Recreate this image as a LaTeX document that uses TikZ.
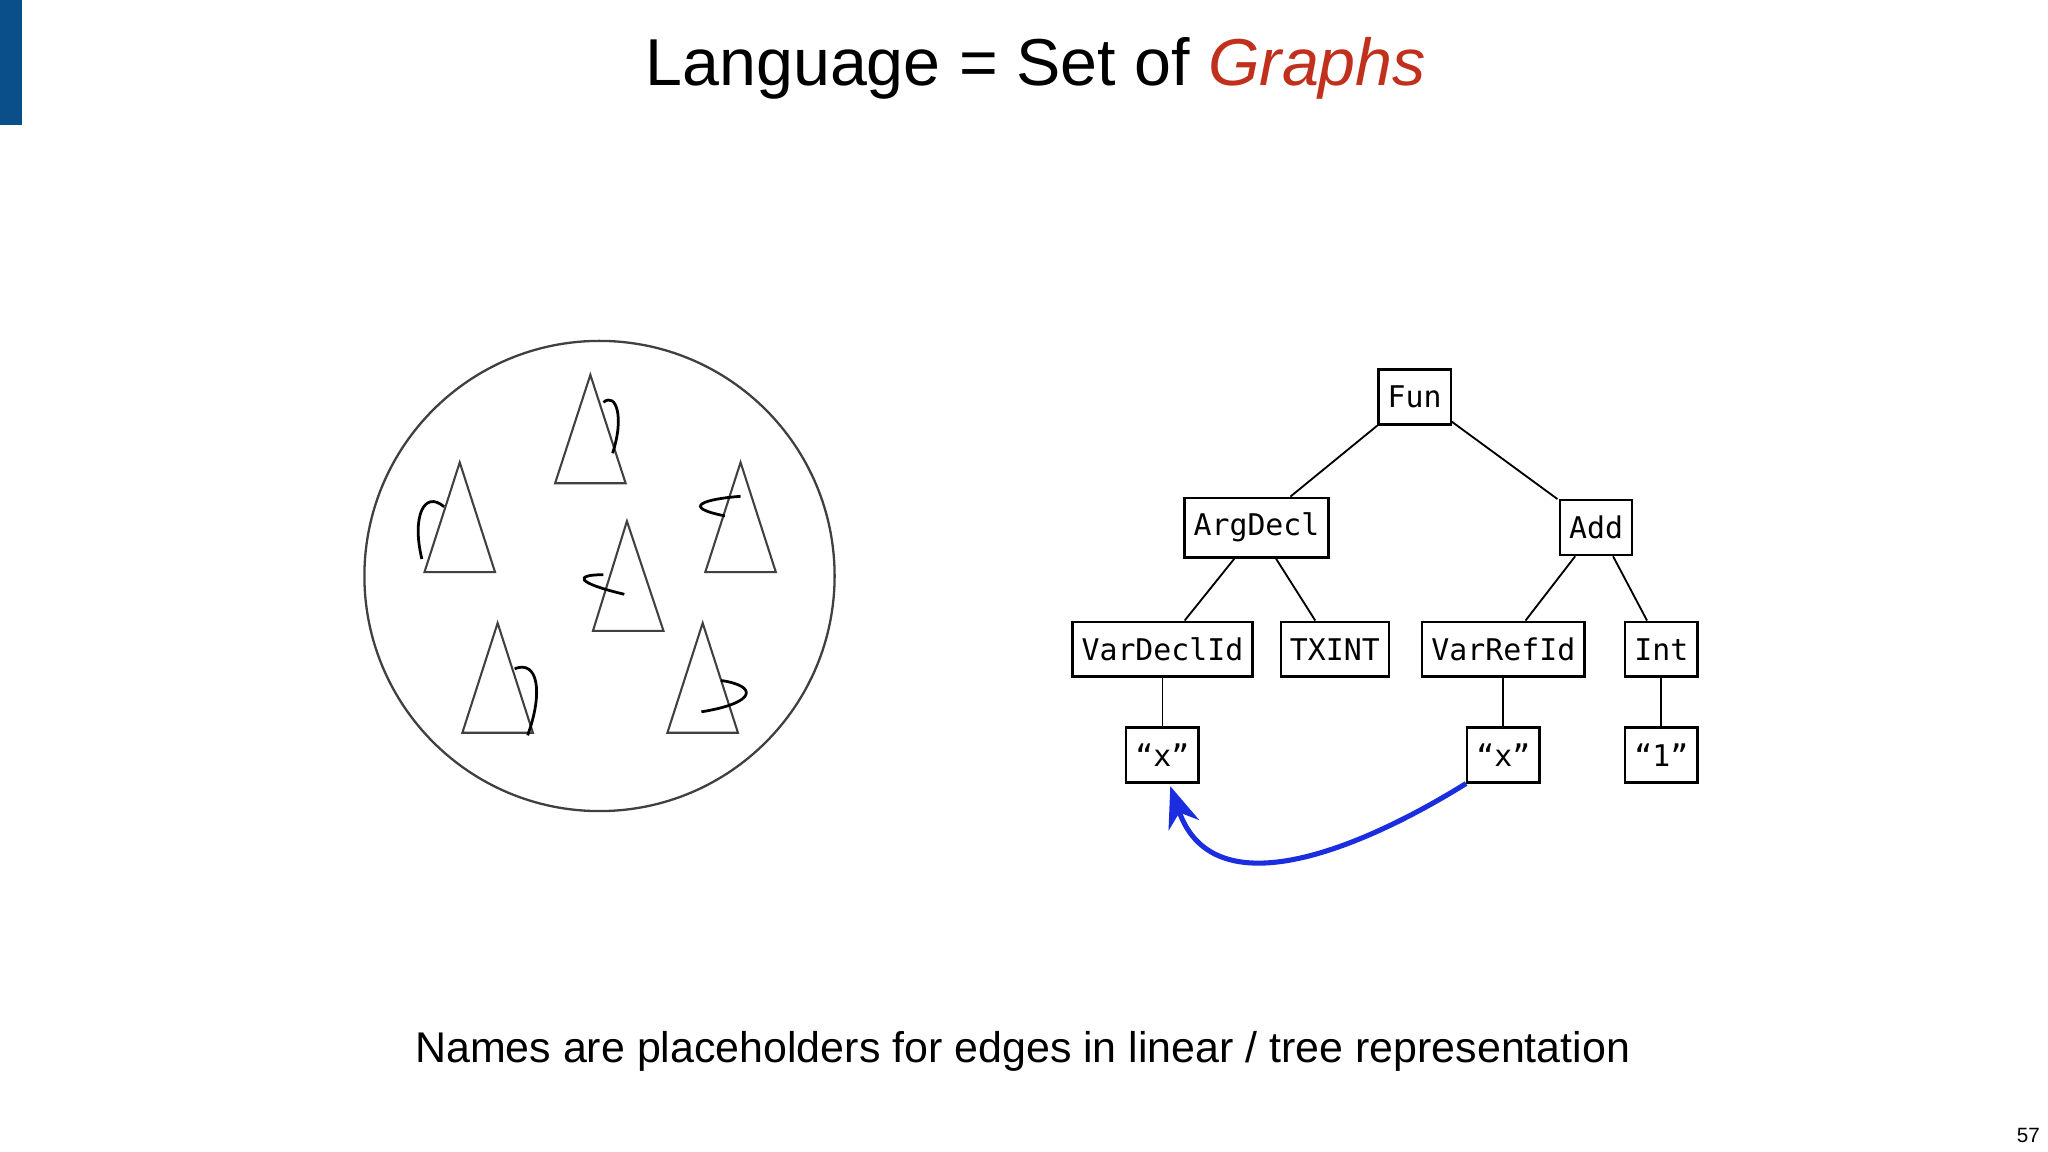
\documentclass[tikz,border=0pt]{standalone}
\usepackage{fontspec}
\setmainfont{Liberation Sans}
\newfontfamily\monof{DejaVu Sans Mono}
\usetikzlibrary{calc,arrows.meta}
\definecolor{barblue}{HTML}{0B4F8A}
\definecolor{titlered}{HTML}{C0301C}
\definecolor{arrblue}{HTML}{1A2EE0}
\tikzset{
  tbox/.style={draw,line width=0.5pt,font=\monof\fontsize{6.5}{7}\selectfont,inner xsep=2pt,minimum height=0.42cm,minimum width=0.54cm},
  tri/.style={draw=black!75,line width=0.45pt},
  sq/.style={draw=black,line width=0.6pt},
  edge/.style={draw,line width=0.4pt}
}
\begin{document}
\begin{tikzpicture}[x=0.01cm,y=-0.01cm]
\useasboundingbox (0,0) rectangle (1568,882);
\fill[white] (0,0) rectangle (1568,882);
\fill[barblue] (0,0) rectangle (17,96);
\node (title) at (793,52) {\fontsize{14.45}{16}\selectfont Language = Set of \textcolor{titlered}{\textit{Graphs}}};
\node (foot) at (783,805) {\fontsize{9.35}{11}\selectfont Names are placeholders for edges in linear / tree representation};
\node (pg) at (1553,869) {\fontsize{4.5}{5}\selectfont 57};
% circle
\draw[black!75,line width=0.5pt] (459,441) circle (180);
% triangles
\draw[tri] (452,287) -- (425,370) -- (479,370) -- cycle;
\draw[sq] (469,347) .. controls (478,320) and (472,300) .. (462,308);
\draw[tri] (352,354) -- (325,438) -- (379,438) -- cycle;
\draw[sq] (323,428) .. controls (315,395) and (325,375) .. (340,388);
\draw[tri] (567,354) -- (540,438) -- (594,438) -- cycle;
\draw[sq] (567,380) .. controls (540,382) and (520,388) .. (555,395);
\draw[tri] (480,399) -- (454,483) -- (508,483) -- cycle;
\draw[sq] (478,455) .. controls (440,446) and (440,440) .. (462,440);
\draw[tri] (381,477) -- (354,561) -- (408,561) -- cycle;
\draw[sq] (404,563) .. controls (416,530) and (412,505) .. (394,512);
\draw[tri] (538,477) -- (511,561) -- (565,561) -- cycle;
\draw[sq] (537,545) .. controls (580,538) and (580,525) .. (552,521);
% tree
\node[tbox] (fun) at (1083,304) {Fun};
\node[tbox] (arg) at (962,404) {ArgDecl};
\node[tbox] (add) at (1222,404) {Add};
\node[tbox] (vdi) at (890,497) {VarDeclId};
\node[tbox] (tx) at (1022,497) {TXINT};
\node[tbox] (vri) at (1151,497) {VarRefId};
\node[tbox] (int) at (1272,497) {Int};
\node[tbox] (x1) at (890,578) {“x”};
\node[tbox] (x2) at (1151,578) {“x”};
\node[tbox] (one) at (1272,578) {“1”};
\draw[edge] (fun.south west) -- ($(arg.north)+(26,0)$);
\draw[edge] ($(fun.south east)+(0,-3)$) -- ($(add.north west)+(-1,0)$);
\draw[edge] ($(arg.south)+(-17,0)$) -- ($(vdi.north)+(17,0)$);
\draw[edge] ($(arg.south)+(15,0)$) -- ($(tx.north)+(-15,0)$);
\draw[edge] ($(add.south)+(-16,0)$) -- ($(vri.north)+(17,0)$);
\draw[edge] ($(add.south)+(13,0)$) -- ($(int.north)+(-11,0)$);
\draw[edge] (vdi) -- (x1);
\draw[edge] (vri) -- (x2);
\draw[edge] (int) -- (one);
\draw[arrblue,line width=1.1pt,-{Stealth[length=9pt,width=7pt]}] (x2.south west) .. controls (1050,645) and (930,700) .. ($(x1.south)+(6,2)$);
\end{tikzpicture}
\end{document}
